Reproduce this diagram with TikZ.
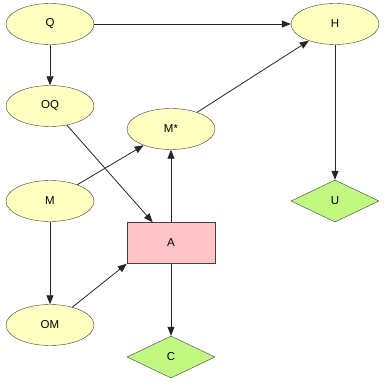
\documentclass[tikz,border=0pt]{standalone}
\usepackage{fontspec}
\setmainfont{Liberation Sans}
\usepackage{xcolor}
\usetikzlibrary{arrows.meta,shapes.geometric}

\definecolor{nodeyellow}{HTML}{FFFFC0}
\definecolor{nodepink}{HTML}{FFC4C8}
\definecolor{nodegreen}{HTML}{C0F880}

\begin{document}
\begin{tikzpicture}[
    x=1pt, y=-1pt,
    >={Triangle[length=9pt, width=7pt]},
    font=\fontsize{11.5}{13}\selectfont,
    chance/.style={ellipse, draw=black!75, fill=nodeyellow,
                   minimum width=88pt, minimum height=41pt, inner sep=0pt},
    decision/.style={rectangle, draw=black!75, fill=nodepink,
                     minimum width=88pt, minimum height=41pt, inner sep=0pt},
    utility/.style={diamond, draw=black!75, fill=nodegreen, aspect=2.1,
                    minimum width=88pt, minimum height=42pt, inner sep=0pt},
    link/.style={->, black!85, line width=0.8pt},
]
\useasboundingbox (0,0) rectangle (385,382);

% --- chance nodes ---
\node[chance] (Q)  at (50,24)   {Q};
\node[chance] (OQ) at (50,106)  {OQ};
\node[chance] (M)  at (50,201)  {M};
\node[chance] (OM) at (50,325)  {OM};
\node[chance] (Ms) at (171,129) {M*};
\node[chance] (H)  at (335,24)  {H};

% --- decision and utility nodes ---
\node[decision] (A) at (171,243) {A};
\node[utility]  (C) at (171,357) {C};
\node[utility]  (U) at (335,201) {U};

% --- links ---
\draw[link] (Q)  -- (H);
\draw[link] (Q)  -- (OQ);
\draw[link] (OQ) -- (A);
\draw[link] (M)  -- (Ms);
\draw[link] (M)  -- (OM);
\draw[link] (OM) -- (A.south west);
\draw[link] (A)  -- (Ms);
\draw[link] (Ms) -- (H);
\draw[link] (A)  -- (C);
\draw[link] (H)  -- (U);
\end{tikzpicture}
\end{document}
